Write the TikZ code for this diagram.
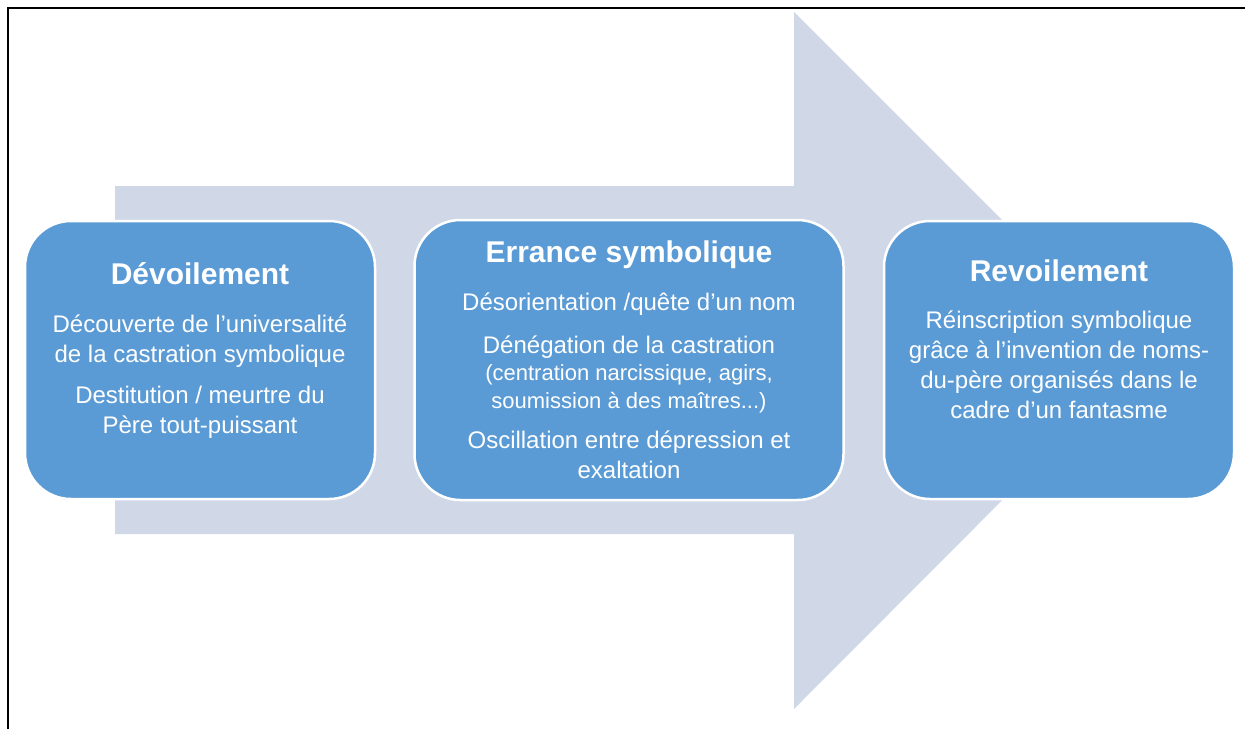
\documentclass[tikz,border=0pt]{standalone}
\usepackage{fontspec}
\setmainfont{Liberation Sans}
\usetikzlibrary{positioning}
\definecolor{stageblue}{RGB}{91,155,213}
\definecolor{arrowgrey}{RGB}{208,216,232}
\newcommand{\bodyfnt}{\fontsize{24}{30}\selectfont}
\newcommand{\smallfnt}{\fontsize{22}{28}\selectfont}

\begin{document}
\begin{tikzpicture}[x=1pt,y=-1pt,
  stage/.style={fill=stageblue,draw=white,line width=2.5pt,rounded corners=46pt,minimum height=278pt},
  heading/.style={text=white,font=\bfseries\fontsize{30}{36}\selectfont,anchor=base,inner sep=0pt},
  body/.style={text=white,font=\bodyfnt,align=center,anchor=north,inner sep=0pt}]
  \useasboundingbox (0,0) rectangle (1245,729);
  \fill[arrowgrey] (115,186) -- (794,186) -- (794,12) -- (1142,360) -- (794,709) -- (794,534) -- (115,534) -- cycle;
  \draw[line width=2pt] (7.5,729) -- (7.5,7.5) -- (1245,7.5);

  \node[stage,minimum width=350pt] (d1) at (200,360) {};
  \node[stage,minimum width=429pt,minimum height=280pt,right=37pt of d1] (d2) {};
  \node[stage,minimum width=350pt,right=38pt of d2] (d3) {};

  \node[heading] (t1) at ([yshift=-65pt]d1.north) {Dévoilement};
  \node[body] (b1) at ([yshift=-95pt]d1.north)
    {Découverte de l’universalité\\ de la castration symbolique\\[11pt]
     Destitution / meurtre du\\ Père tout-puissant};

  \node[heading] (t2) at ([yshift=-44pt]d2.north) {Errance symbolique};
  \node[body] (b2) at ([yshift=-74pt]d2.north)
    {Désorientation /quête d’un nom\\[13pt]
     Dénégation de la castration\\[-3pt]
     \smallfnt (centration narcissique, agirs,\\[-2pt]
     \smallfnt soumission à des maîtres...)\\[10pt]
     Oscillation entre dépression et\\ exaltation};

  \node[heading] (t3) at ([yshift=-62pt]d3.north) {Revoilement};
  \node[body] (b3) at ([yshift=-91pt]d3.north)
    {Réinscription symbolique\\ grâce à l’invention de noms-\\
     du-père organisés dans le\\ cadre d’un fantasme};
\end{tikzpicture}
\end{document}
